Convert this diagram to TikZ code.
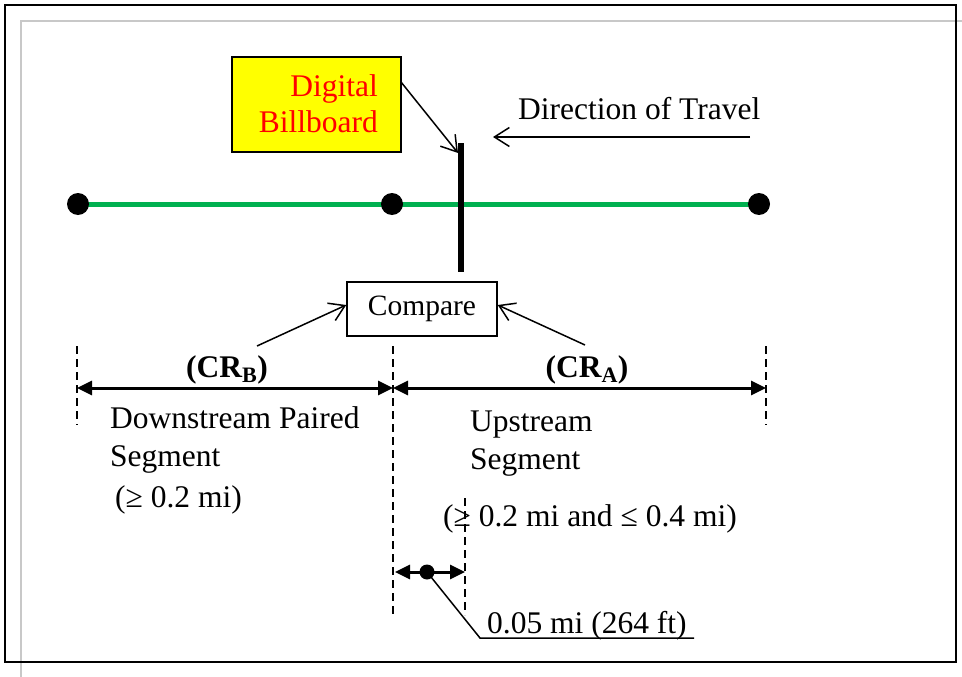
\documentclass[tikz,border=0pt]{standalone}
\usepackage{fontspec}
\setmainfont{Liberation Serif}
\usetikzlibrary{arrows.meta}
\definecolor{roadgreen}{RGB}{0,176,80}
\definecolor{framegray}{RGB}{200,200,200}
\definecolor{signyellow}{RGB}{255,255,0}
\definecolor{signred}{RGB}{255,0,0}
\begin{document}
\begin{tikzpicture}[x=1pt,y=-1pt,
  txt/.style={inner sep=0pt, font=\fontsize{31.5}{36}\selectfont},
  dot/.style={circle, fill=black, inner sep=0pt, minimum size=22pt},
  smalldot/.style={circle, fill=black, inner sep=0pt, minimum size=15pt},
  leader/.style={line width=1.5pt, -{Straight Barb[length=15pt,width=19pt,line width=1.5pt]}},
  dimline/.style={line width=3pt, {Triangle[length=15pt,width=14pt]}-{Triangle[length=15pt,width=14pt]}},
  guide/.style={line width=1.5pt, dash pattern=on 8pt off 5pt},
]
\useasboundingbox (0,0) rectangle (962,677);
% frames
\draw[framegray, line width=2pt] (21,677) -- (21,21) -- (962,21);
\draw[line width=2.5pt] (5,5) rectangle (956,662);

% road
\coordinate (p1) at (78,204);
\coordinate (p2) at (392,204);
\coordinate (p3) at (759,204);
\draw[roadgreen, line width=5pt] (p1) -- (p2) -- (p3);
\node[dot] (d1) at (p1) {};
\node[dot] (d2) at (p2) {};
\node[dot] (d3) at (p3) {};

% billboard post
\coordinate (posttop) at (461,143);
\coordinate (postbot) at (461,272);
\draw[line width=6pt] (posttop) -- (postbot);

% billboard sign
\node[draw, line width=2pt, fill=signyellow, minimum width=169pt, minimum height=95pt, inner sep=0pt] (bb) at (316.5,104.5) {};
\node[txt, text=signred, anchor=base east] (bbt1) at (378,97) {Digital};
\node[txt, text=signred, anchor=base east] (bbt2) at (378,132) {Billboard};
\coordinate (bbstart) at (401,82);
\coordinate (bbend) at (458,153);
\draw[leader] (bbstart) -- (bbend);

% direction of travel
\node[txt, anchor=base west] (dir) at (518,120) {Direction of Travel};
\coordinate (dirS) at (750,137);
\coordinate (dirE) at (493,137);
\draw[leader] (dirS) -- (dirE);

% compare
\node[draw, line width=1.5pt, minimum width=150pt, minimum height=54pt, inner sep=0pt, font=\fontsize{29.5}{34}\selectfont] (cmp) at (422,309) {Compare};
\coordinate (crbS) at (257,346);
\coordinate (craS) at (585,345);
\draw[leader] (crbS) -- ([yshift=4pt]cmp.west);
\draw[leader] (craS) -- ([yshift=4pt]cmp.east);

% guides
\coordinate (g1t) at (77,346);  \coordinate (g1b) at (77,425);
\coordinate (g2t) at (393,346); \coordinate (g2b) at (393,615);
\coordinate (g3t) at (465,498); \coordinate (g3b) at (465,615);
\coordinate (g4t) at (766,346); \coordinate (g4b) at (766,425);
\draw[guide] (g1t) -- (g1b);
\draw[guide] (g2t) -- (g2b);
\draw[guide] (g3t) -- (g3b);
\draw[guide] (g4t) -- (g4b);

% dimension lines
\coordinate (dimL) at (77,388);
\coordinate (dimM) at (393,388);
\coordinate (dimR) at (766,388);
\draw[dimline] (dimL) -- (dimM);
\draw[dimline] (dimM) -- (dimR);
\node[txt, anchor=base] (crb) at (227,377) {\textbf{(CR\textsubscript{B})}};
\node[txt, anchor=base] (cra) at (587,377) {\textbf{(CR\textsubscript{A})}};

% labels
\node[txt, anchor=base west] (down1) at (110,428) {Downstream Paired};
\node[txt, anchor=base west] (down2) at (110,466) {Segment};
\node[txt, anchor=base west] (down3) at (115,507) {(≥ 0.2 mi)};
\node[txt, anchor=base west] (up1) at (470,431) {Upstream};
\node[txt, anchor=base west] (up2) at (470,469) {Segment};
\node[txt, anchor=base west] (up3) at (443,526) {(≥ 0.2 mi and ≤ 0.4 mi)};

% small dimension
\coordinate (sL) at (395,572);
\coordinate (sR) at (465,572);
\draw[dimline] (sL) -- (sR);
\node[smalldot] (sdot) at (427,572) {};
\coordinate (lbend) at (480,638);
\coordinate (lend) at (694,638);
\draw[line width=1.5pt] (sdot.center) -- (lbend) -- (lend);
\node[txt, anchor=base west] (small) at (487,633) {0.05 mi (264 ft)};
\end{tikzpicture}
\end{document}
